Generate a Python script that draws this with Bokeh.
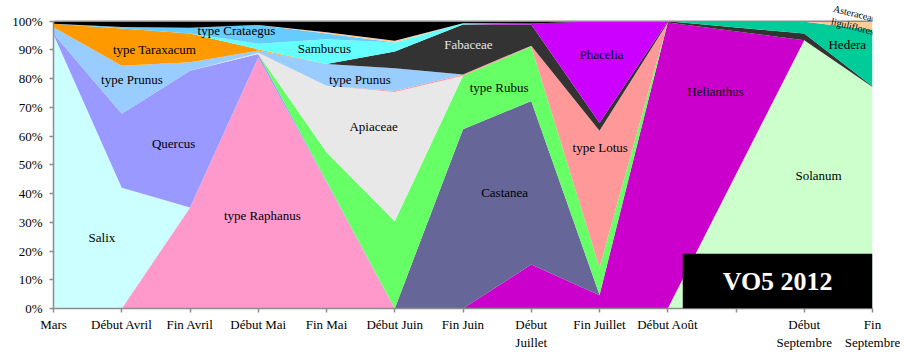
from bokeh.plotting import figure
from bokeh.models import ColumnDataSource, FixedTicker, Label, BoxAnnotation, Span, Range1d
from bokeh.embed import file_html
from bokeh.resources import INLINE

# ---- data -------------------------------------------------------------
tick_labels = ["Mars", "Début Avril", "Fin Avril", "Début Mai", "Fin Mai", "Début Juin",
               "Fin Juin", "Début\nJuillet", "Fin Juillet", "Début Août", "",
               "Début\nSeptembre", "Fin\nSeptembre"]
# category positions that carry a sample (the unlabeled slot has none)
sample_pos = [0, 1, 2, 3, 4, 5, 6, 7, 8, 9, 11, 12]

solanum     = [0, 0, 0, 0, 0, 0, 0, 0, 0, 0, 93.4, 77.1]
helianthus  = [0, 0, 0, 0, 0, 0, 0, 15.3, 4.6, 99.6, 0, 0]
castanea    = [0, 0, 0, 0, 0, 0, 62.4, 56.9, 0.2, 0, 0, 0]
raphanus    = [0, 0, 35.2, 87.4, 44.0, 0, 0, 0, 0, 0, 0, 0]
salix       = [95.4, 42.0, 0, 0, 0, 0, 0, 0, 0, 0, 0, 0]
quercus     = [0.2, 25.8, 47.6, 1.2, 0.3, 0, 0, 0, 0, 0, 0, 0]
rubus       = [0, 0, 0, 0, 10.1, 30.4, 18.6, 19.0, 9.5, 0, 0, 0]
apiaceae    = [0, 0, 0, 0.4, 23.1, 45.0, 0, 0, 0, 0, 0, 0]
lotus       = [0, 0, 0, 0, 0, 0.3, 0.5, 0.3, 47.6, 0, 0, 0]
prunus      = [2.3, 16.7, 2.9, 0.8, 7.6, 7.9, 0, 0, 0, 0, 0, 0]
taraxacum   = [1.2, 13.0, 10.0, 0.4, 0, 0, 0, 0, 0, 0, 0, 0]
fabaceae    = [0, 0, 0, 0, 0, 5.9, 17.4, 7.4, 2.8, 0.4, 2.3, 0.3]
phacelia    = [0, 0, 0, 0, 0, 0, 0, 0.3, 35.3, 0, 0, 0]
hedera      = [0, 0, 0, 0, 0, 0, 0, 0, 0, 0, 4.1, 19.6]
sambucus    = [0, 0, 0, 2.0, 8.6, 3.1, 0.4, 0, 0, 0, 0, 0]
crataegus   = [0, 0.5, 2.0, 6.5, 2.0, 0, 0, 0, 0, 0, 0, 0]
asteraceae  = [0, 0, 0, 0, 0.5, 0.6, 0, 0, 0, 0, 0.2, 3.0]
autres      = [0.9, 2.0, 2.3, 1.3, 3.8, 6.8, 0.7, 0.8, 0, 0, 0, 0]

series = [
    ("Solanum", solanum, "#CCFFCC"),
    ("Helianthus", helianthus, "#CC00CC"),
    ("Castanea", castanea, "#666699"),
    ("type Raphanus", raphanus, "#FF99CC"),
    ("Salix", salix, "#CCFFFF"),
    ("Quercus", quercus, "#9999FF"),
    ("type Rubus", rubus, "#66FF66"),
    ("Apiaceae", apiaceae, "#E8E8E8"),
    ("type Lotus", lotus, "#FF9999"),
    ("type Prunus", prunus, "#99CCFF"),
    ("type Taraxacum", taraxacum, "#FF9900"),
    ("Fabaceae", fabaceae, "#333333"),
    ("Phacelia", phacelia, "#CC00FF"),
    ("Hedera", hedera, "#00CC99"),
    ("Sambucus", sambucus, "#66FFFF"),
    ("type Crataegus", crataegus, "#66CCFF"),
    ("Asteraceae liguliflores", asteraceae, "#FFCC99"),
    ("Autres", autres, "#000000"),
]

# ---- figure -----------------------------------------------------------
FONT = "Liberation Serif"

data = {"x": sample_pos}
keys = []
for i, (name, vals, col) in enumerate(series):
    k = f"s{i}"
    data[k] = vals
    keys.append(k)
source = ColumnDataSource(data)

# frame reaches the top of the canvas so the small rotated label above 100 % stays visible
W, H = 900, 352
BL, BT, FW, FH = 53, 0, 819, 312
PX_PER_100 = 291
p = figure(width=W, height=H,
           output_backend="svg", toolbar_location=None,
           x_range=Range1d(0, 12), y_range=Range1d(0, 100 * FH / PX_PER_100),
           min_border_left=BL, min_border_top=BT,
           min_border_right=W - BL - FW, min_border_bottom=H - BT - FH)
p.background_fill_color = "white"
p.border_fill_color = "white"
p.outline_line_color = None
p.xgrid.visible = False
p.ygrid.visible = False

p.varea_stack(stackers=keys, x="x", color=[s[2] for s in series], source=source)

p.add_layout(Span(location=100, dimension="width", line_color="#8c8c8c", line_width=1.5))

AX = "#8c8c8c"
for ax in (p.xaxis[0], p.yaxis[0]):
    ax.axis_line_color = AX
    ax.axis_line_width = 1.5
    ax.major_tick_line_color = AX
    ax.major_tick_line_width = 1.5
    ax.major_tick_in = 0
    ax.major_tick_out = 4
    ax.minor_tick_line_color = None
    ax.major_label_text_font = FONT
    ax.major_label_text_font_size = "13px"
    ax.major_label_text_color = "black"

p.xaxis.ticker = FixedTicker(ticks=list(range(len(tick_labels))))
p.xaxis.major_label_overrides = {i: t for i, t in enumerate(tick_labels)}
p.xaxis.major_label_standoff = 4

yt = list(range(0, 101, 10))
p.yaxis.ticker = FixedTicker(ticks=yt)
p.yaxis.major_label_overrides = {v: f"{v}%" for v in yt}
p.yaxis.major_label_standoff = 7
p.yaxis.bounds = (0, 100)

# ---- in-chart labels (layout) ------------------------------------------
labels = [
    ("type Crataegus", 2.68, 96.8, "black"),
    ("type Taraxacum", 1.48, 90.2, "black"),
    ("type Prunus", 1.15, 79.6, "black"),
    ("Quercus", 1.76, 57.6, "black"),
    ("Salix", 0.71, 24.6, "black"),
    ("type Raphanus", 3.06, 32.3, "black"),
    ("Sambucus", 3.97, 90.4, "black"),
    ("type Prunus", 4.49, 79.6, "black"),
    ("Apiaceae", 4.69, 63.2, "black"),
    ("Fabaceae", 6.08, 91.9, "#E6E6E6"),
    ("type Rubus", 6.53, 76.8, "black"),
    ("Castanea", 6.61, 40.4, "black"),
    ("Phacelia", 8.03, 88.5, "black"),
    ("type Lotus", 8.01, 56.1, "black"),
    ("Helianthus", 9.70, 75.4, "black"),
    ("Solanum", 11.21, 46.2, "black"),
    ("Hedera", 11.63, 91.9, "black"),
]
for txt, lx, ly, col in labels:
    p.add_layout(Label(x=lx, y=ly, text=txt, text_font=FONT, text_font_size="13px",
                       text_color=col, text_align="center", text_baseline="middle"))

for txt, lx, ly in [("Asteraceae", 11.74, 102.7), ("liguliflores", 11.71, 98.2)]:
    p.add_layout(Label(x=lx, y=ly, text=txt, text_font=FONT, text_font_size="10px",
                       text_color="black", text_align="center", text_baseline="middle",
                       angle=-0.24))

p.add_layout(BoxAnnotation(left=9.22, right=12, bottom=0, top=19.1,
                           fill_color="black", fill_alpha=1.0, line_color=None))
p.add_layout(Label(x=10.61, y=9.5, text="VO5 2012", text_font=FONT, text_font_size="26px",
                   text_font_style="bold", text_color="white",
                   text_align="center", text_baseline="middle"))

open("out.html", "w").write(file_html(p, INLINE))
